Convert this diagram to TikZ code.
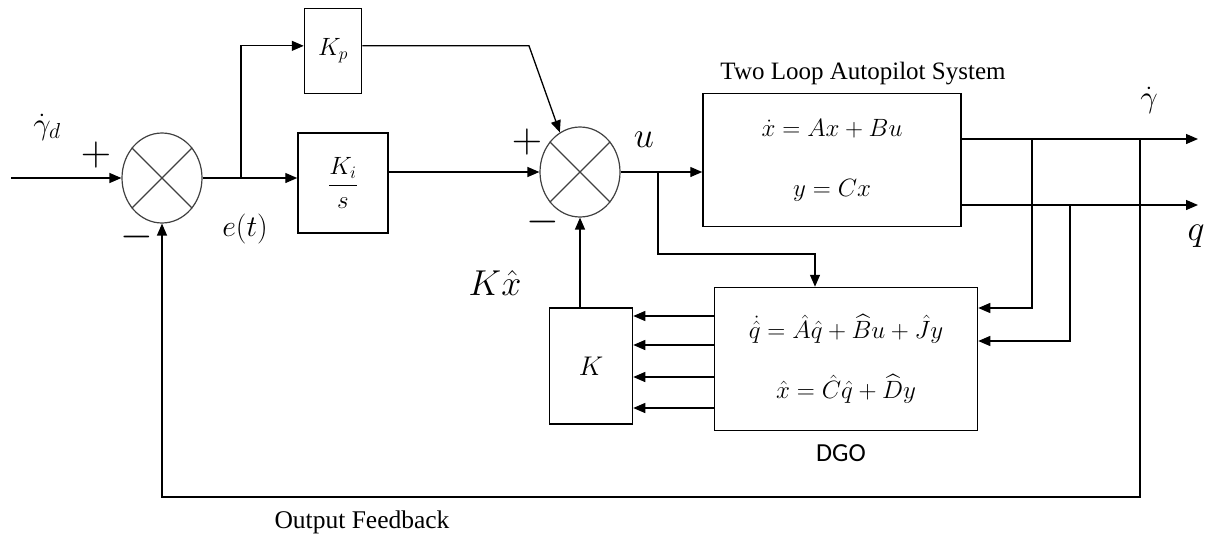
\documentclass[tikz,border=0pt]{standalone}
\usepackage{fix-cm}
\usepackage{amsmath,amssymb}
\usepackage{fontspec}
\newfontfamily\tnrfont{Liberation Serif}
\newfontfamily\calfont{Carlito}
\usepackage{tikz}
\usetikzlibrary{arrows.meta,shapes.geometric}

\begin{document}
\begin{tikzpicture}[x=1pt,y=-1pt,>={Triangle[length=12pt,width=10pt]},
  every node/.style={font=\fontsize{25}{30}\selectfont},
  block/.style={draw, line width=1.5pt, inner sep=0pt, align=center},
  sumjunc/.style={draw=black!75, ellipse, line width=1.2pt, minimum width=80pt, minimum height=90pt, inner sep=0pt},
  signlbl/.style={font=\fontsize{42}{46}\selectfont},
  biglbl/.style={font=\fontsize{36}{40}\selectfont},
  wire/.style={line width=1.3pt}]

\useasboundingbox (0,0) rectangle (1210,539);

% summing junctions
\node[sumjunc] (s1) at (162,178) {};
\draw[black!75, line width=1.1pt] (s1.45) -- (s1.225) (s1.135) -- (s1.315);
\node[sumjunc] (s2) at (580,172) {};
\draw[black!75, line width=1.1pt] (s2.45) -- (s2.225) (s2.135) -- (s2.315);

% gain blocks
\node[block, minimum width=57pt, minimum height=85pt] (kp) at (333,51) {$K_p$};
\node[block, minimum width=90pt, minimum height=100pt] (ki) at (343,183) {$\dfrac{K_i}{s}$};
\node[block, minimum width=83pt, minimum height=116pt, font=\fontsize{27}{30}\selectfont] (kbox) at (591,366) {$K$};

% plant and observer
\node[block, minimum width=258pt, minimum height=133pt] (plant) at (832,160)
  {$\dot{x} = Ax + Bu$\\[30pt]$y = Cx$};
\node[font=\tnrfont\fontsize{25}{28}\selectfont] (pltitle) at (863,74) {Two Loop Autopilot System};

\node[block, minimum width=263pt, minimum height=143pt] (dgo) at (846,359)
  {$\dot{\hat{q}} = \hat{A}\hat{q} + \widehat{B}u + \hat{J}y$\\[30pt]$\hat{x} = \hat{C}\hat{q} + \widehat{D}y$};
\node[font=\calfont\fontsize{26}{30}\selectfont] (dgolbl) at (841,453) {DGO};

% signal points
\coordinate (in) at (11,178);
\coordinate (ebr) at (241,178);
\coordinate (kpc) at (529,46);
\coordinate (ubr) at (658,172);
\coordinate (utop) at (815,254);
\coordinate (gout) at (1198,139);
\coordinate (qout) at (1198,205);
\coordinate (t1) at (1032,139);
\coordinate (t2) at (1070,205);
\coordinate (t3) at (1140,139);
\coordinate (fb) at (1140,497);

% connectors
\draw[wire,->] (in) -- (s1.west);
\draw[wire,->] (s1.east) -- (s1.east -| ki.west);
\draw[wire,->] (ebr) |- (kp.170);
\draw[wire,->] (kp.10) -- (kp.10 -| kpc) -- (s2.117);
\draw[wire,->] (ki.east |- s2) -- (s2.west);
\draw[wire,->] (s2.east) -- (s2.east -| plant.west);
\draw[wire,->] (ubr) |- (utop) -- (utop |- dgo.north);
\draw[wire,->] (plant.east |- gout) -- (gout);
\draw[wire,->] (plant.east |- qout) -- (qout);
\draw[wire,->] (t1) |- (dgo.east |- 0,308);
\draw[wire,->] (t2) |- (dgo.east |- 0,341);
\draw[wire,->] (t3) -- (fb) -| (s1.south);
\foreach \yy in {316,345,377,408}
  \draw[wire,->] (dgo.west |- 0,\yy) -- (kbox.east |- 0,\yy);
\draw[wire,->] (s2 |- kbox.north) -- (s2.south);

% labels
\node[font=\fontsize{31}{34}\selectfont] (gdlbl) at (47,127) {$\dot{\gamma}_d$};
\node[signlbl] (p1) at (96,155) {$+$};
\node[signlbl] (m1) at (137,237) {$-$};
\node[font=\fontsize{30}{34}\selectfont] (elbl) at (245,229) {$e(t)$};
\node[signlbl] (p2) at (527,142) {$+$};
\node[signlbl] (m2) at (543,222) {$-$};
\node[biglbl] (ulbl) at (644,140) {$u$};
\node[biglbl] (kxlbl) at (495,283) {$K\hat{x}$};
\node[font=\fontsize{31}{34}\selectfont] (glbl) at (1149,100) {$\dot{\gamma}$};
\node[biglbl] (qlbl) at (1196,236) {$q$};
\node[font=\tnrfont\fontsize{25.5}{28}\selectfont] (fblbl) at (362,522) {Output Feedback};

\end{tikzpicture}
\end{document}
